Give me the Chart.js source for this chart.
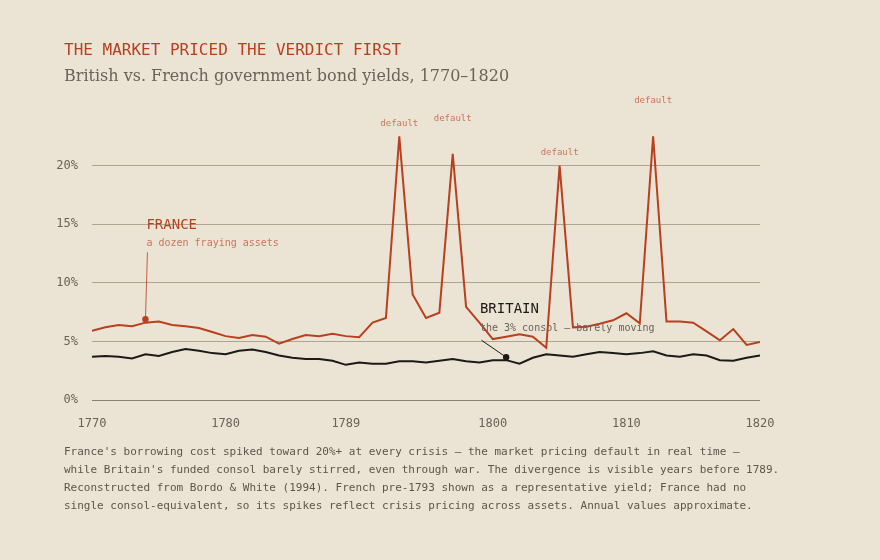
<!DOCTYPE html>
<html>
<head>
<meta charset="utf-8">
<script src="https://cdn.jsdelivr.net/npm/chart.js@4"></script>
<style>
  html, body { margin: 0; padding: 0; background: #ebe3d4; }
  #wrap { position: relative; width: 880px; height: 560px; overflow: hidden; background: #ebe3d4; }
  #c { position: absolute; left: 0; top: 0; }
  .t { position: absolute; white-space: nowrap; }
  #title { left: 64px; top: 40px; font: 16px "DejaVu Sans Mono", monospace; color: #b8401f; letter-spacing: 0; }
  #sub { left: 64px; top: 66px; font: 16px "DejaVu Serif", serif; color: #6b6258; }
  #foot { left: 64px; top: 443px; font: 11px/18px "DejaVu Sans Mono", monospace; color: #5e554b; white-space: pre; }
</style>
</head>
<body>
<div id="wrap">
  <canvas id="c" width="880" height="560"></canvas>
  <div class="t" id="title">THE MARKET PRICED THE VERDICT FIRST</div>
  <div class="t" id="sub">British vs. French government bond yields, 1770–1820</div>
  <div class="t" id="foot">France's borrowing cost spiked toward 20%+ at every crisis — the market pricing default in real time —
while Britain's funded consol barely stirred, even through war. The divergence is visible years before 1789.
Reconstructed from Bordo &amp; White (1994). French pre-1793 shown as a representative yield; France had no
single consol-equivalent, so its spikes reflect crisis pricing across assets. Annual values approximate.</div>
</div>
<script>
// ---- data ----
const years = [];
for (let y = 1770; y <= 1820; y++) years.push(y);

const franceYields = [
  5.9, 6.2, 6.4, 6.3, 6.6, 6.7, 6.4, 6.3, 6.15, 5.8,
  5.45, 5.3, 5.55, 5.4, 4.8, 5.2, 5.55, 5.45, 5.65, 5.45,
  5.35, 6.6, 7.0, 22.5, 9.0, 7.0, 7.45, 21.0, 7.95, 6.6,
  5.2, 5.4, 5.6, 5.4, 4.45, 20.0, 6.2, 6.25, 6.5, 6.8,
  7.4, 6.55, 22.5, 6.7, 6.7, 6.6, 5.85, 5.1, 6.05, 4.7,
  4.95
];

const britainYields = [
  3.7, 3.75, 3.7, 3.55, 3.9, 3.75, 4.1, 4.35, 4.2, 4.0,
  3.9, 4.2, 4.3, 4.1, 3.8, 3.6, 3.5, 3.5, 3.35, 3.0,
  3.2, 3.1, 3.1, 3.3, 3.3, 3.2, 3.35, 3.5, 3.3, 3.2,
  3.4, 3.4, 3.1, 3.6, 3.9, 3.8, 3.7, 3.9, 4.1, 4.0,
  3.9, 4.0, 4.15, 3.8, 3.7, 3.9, 3.8, 3.4, 3.35, 3.6,
  3.8
];

const xTickYears = [1770, 1780, 1789, 1800, 1810, 1820];
const yTickValues = [0, 5, 10, 15, 20];

const defaultYears = [1793, 1797, 1805, 1812];
const defaultLabelLevels = [23.6, 24.0, 21.1, 25.5];

// ---- colours ----
const RED = '#b8401f';
const RED_SOFT = '#c8775a';
const INK = '#1c1a17';
const GREY = '#6b6258';

const toPts = arr => arr.map((v, i) => ({ x: years[i], y: v }));

const annot = {
  id: 'annot',
  afterDatasetsDraw(chart) {
    const { ctx, scales: { x, y } } = chart;
    ctx.save();
    const mono = '"DejaVu Sans Mono", monospace';

    // default labels
    ctx.font = '9px ' + mono;
    ctx.fillStyle = RED_SOFT;
    ctx.textAlign = 'center';
    ctx.textBaseline = 'middle';
    defaultYears.forEach((yr, i) => {
      ctx.fillText('default', x.getPixelForValue(yr), y.getPixelForValue(defaultLabelLevels[i]));
    });

    // FRANCE callout
    const fx = x.getPixelForValue(1774), fy = y.getPixelForValue(6.9);
    ctx.strokeStyle = RED; ctx.lineWidth = 0.8;
    ctx.beginPath();
    ctx.moveTo(fx + 2, y.getPixelForValue(12.6));
    ctx.lineTo(fx, fy);
    ctx.stroke();
    ctx.fillStyle = RED;
    ctx.beginPath(); ctx.arc(fx, fy, 3.2, 0, Math.PI * 2); ctx.fill();
    ctx.textAlign = 'left';
    ctx.font = '14px ' + mono;
    ctx.fillText('FRANCE', fx + 1, y.getPixelForValue(14.9));
    ctx.font = '10px ' + mono;
    ctx.fillStyle = RED_SOFT;
    ctx.fillText('a dozen fraying assets', fx + 1, y.getPixelForValue(13.35));

    // BRITAIN callout
    const bx = x.getPixelForValue(1801), by = y.getPixelForValue(3.65);
    const lx = x.getPixelForValue(1799.15), ly = y.getPixelForValue(5.1);
    ctx.strokeStyle = INK; ctx.lineWidth = 1;
    ctx.beginPath(); ctx.moveTo(lx, ly); ctx.lineTo(bx, by); ctx.stroke();
    ctx.fillStyle = INK;
    ctx.beginPath(); ctx.arc(bx, by, 3.2, 0, Math.PI * 2); ctx.fill();
    ctx.font = '14px ' + mono;
    ctx.fillText('BRITAIN', lx - 1.5, y.getPixelForValue(7.7));
    ctx.font = '10px ' + mono;
    ctx.fillStyle = GREY;
    ctx.fillText('the 3% consol — barely moving', lx - 1.5, y.getPixelForValue(6.15));
    ctx.restore();
  }
};

new Chart(document.getElementById('c'), {
  type: 'line',
  data: {
    datasets: [
      { label: 'Britain', data: toPts(britainYields), borderColor: INK, borderWidth: 2, pointRadius: 0, tension: 0, order: 2 },
      { label: 'France', data: toPts(franceYields), borderColor: RED, borderWidth: 2, pointRadius: 0, tension: 0, order: 1 }
    ]
  },
  options: {
    responsive: false,
    animation: false,
    devicePixelRatio: 1,
    layout: { padding: { left: 0, right: 120, top: 107, bottom: 0 } },
    plugins: { legend: { display: false }, tooltip: { enabled: false } },
    scales: {
      x: {
        type: 'linear',
        min: 1770, max: 1820,
        afterBuildTicks: s => { s.ticks = xTickYears.map(v => ({ value: v })); },
        afterFit: s => { s.height = 160; },
        grid: { display: false, drawTicks: false },
        border: { display: false },
        ticks: {
          padding: 17,
          color: GREY,
          font: { family: '"DejaVu Sans Mono", monospace', size: 12 },
          maxRotation: 0,
          autoSkip: false,
          callback: v => String(v)
        }
      },
      y: {
        min: 0, max: 25,
        afterBuildTicks: s => { s.ticks = yTickValues.map(v => ({ value: v })); },
        afterFit: s => { s.width = 92; },
        grid: {
          drawTicks: false,
          color: c => c.tick && c.tick.value === 0 ? '#8a8070' : '#aea48f',
          lineWidth: 1
        },
        border: { display: false },
        ticks: {
          padding: 14,
          color: GREY,
          font: { family: '"DejaVu Sans Mono", monospace', size: 12 },
          callback: v => v + '%'
        }
      }
    }
  },
  plugins: [annot]
});
</script>
</body>
</html>
